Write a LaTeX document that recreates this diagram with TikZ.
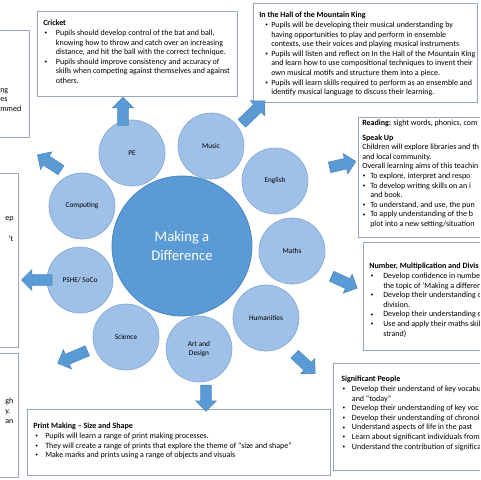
\documentclass[tikz,border=0pt]{standalone}
\usepackage{fontspec}
\setmainfont{Carlito}
\usepackage{tikz}
\usetikzlibrary{shapes.arrows,positioning,fit}
\definecolor{hub}{HTML}{5B9BD5}
\definecolor{hubline}{HTML}{4A85C0}
\definecolor{topic}{HTML}{9FC0E7}
\definecolor{topicline}{HTML}{86A9D6}
\definecolor{panel}{HTML}{97A6B6}
\definecolor{shove}{HTML}{5B9BD5}
\definecolor{shoveline}{HTML}{4F88C2}

\newlength{\bulw}
\newlength{\bullead}
\newcommand{\bul}{\hspace*{\bullead}\makebox[\bulw][l]{\raisebox{0.6pt}{\fontsize{4}{4}\selectfont\textbullet}}}
\newcommand{\ind}{\hspace*{\bullead}\hspace*{\bulw}}

\begin{document}
\begin{tikzpicture}[x=0.75pt, y=-0.75pt,
  panelbox/.style={draw=panel, fill=white, line width=0.6pt, inner sep=0pt},
  txt/.style={anchor=north west, inner sep=0pt, align=left, font=\fontsize{6}{7.2}\selectfont},
  hang/.code={\setlength{\bulw}{#1}},
  lead/.code={\setlength{\bullead}{#1}},
  topicball/.style={circle, fill=topic, draw=topicline, line width=0.5pt, minimum size=49.5pt, inner sep=0pt, align=center, font=\fontsize{5.5}{6.5}\selectfont},
  hubball/.style={circle, fill=hub, draw=hubline, line width=0.6pt, minimum size=105pt, inner sep=0pt, align=center, text=white, font=\fontsize{11}{14.5}\selectfont},
  blk/.style={single arrow, fill=shove, draw=shoveline, line width=0.5pt, inner xsep=0pt, inner ysep=3.75pt, single arrow head extend=3.75pt, single arrow tip angle=90, minimum height=21pt}
]
  \useasboundingbox (0,0) rectangle (480,480);
  \clip (0,0) rectangle (480,480);

  % panels cut by the left edge
  \node[panelbox, fit={(-120,30) (29,137)}] (leftboxa) {};
  \node[panelbox, fit={(-120,173) (18,347)}] (leftboxb) {};
  \node[panelbox, fit={(-120,353) (18,477)}] (leftboxc) {};
  \node[txt] (lefttxta) at (0,88) {ng\\es\\mmed};
  \node[txt] (lefttxtb) at (5,216) {ep};
  \node[txt] (lefttxtc) at (8,236) {’t};
  \node[txt] (lefttxtd) at (5,398) {gh\\y.\\an};

  % panels
  \node[panelbox, fit={(37,11) (237,96)}] (cricketbox) {};
  \node[txt, hang=8.5pt, lead=1pt] (crickettxt) at (43,20) {\textbf{Cricket}\\
    \bul Pupils should develop control of the bat and ball,\\
    \ind knowing how to throw and catch over an increasing\\
    \ind distance, and hit the ball with the correct technique.\\
    \bul Pupils should improve consistency and accuracy of\\
    \ind skills when competing against themselves and against\\
    \ind others.};

  \node[panelbox, fit={(253,3) (477,102)}] (hallbox) {};
  \node[txt, hang=4.5pt, lead=4.5pt] (halltxt) at (259,12) {\textbf{In the Hall of the Mountain King}\\
    \bul Pupils will be developing their musical understanding by\\
    \ind having opportunities to play and perform in ensemble\\
    \ind contexts, use their voices and playing musical instruments\\
    \bul Pupils will listen and reflect on In the Hall of the Mountain King\\
    \ind and learn how to use compositional techniques to invent their\\
    \ind own musical motifs and structure them into a piece.\\
    \bul Pupils will learn skills required to perform as an ensemble and\\
    \ind identify musical language to discuss their learning.};

  \node[panelbox, fit={(358,117) (520,237)}] (readbox) {};
  \node[txt, hang=5.5pt, lead=0.5pt] (readtxt) at (362,120) {\textbf{Reading:} sight words, phonics, com\\[3.5pt]
    \textbf{Speak Up}\\
    Children will explore libraries and th\\
    and local community.\\
    Overall learning aims of this teachin\\
    \bul To explore, interpret and respo\\
    \bul To develop writing skills on an i\\
    \ind and book.\\
    \bul To understand, and use, the pun\\
    \bul To apply understanding of the b\\
    \ind plot into a new setting/situation};

  \node[panelbox, fit={(363,242) (520,350)}] (numbox) {};
  \node[txt, hang=9.5pt, lead=1pt] (numtxt) at (369,263) {\textbf{Number, Multiplication and Divis}\\
    \bul Develop confidence in number\\
    \ind the topic of ‘Making a differen\\
    \bul Develop their understanding o\\
    \ind division.\\
    \bul Develop their understanding o\\
    \bul Use and apply their maths skil\\
    \ind strand)};

  \node[panelbox, fit={(333,363) (520,470)}] (peoplebox) {};
  \node[txt, hang=7pt, lead=1pt] (peopletxt) at (341,376) {\textbf{Significant People}\\
    \bul Develop their understand of key vocabu\\
    \ind and “today”\\
    \bul Develop their understanding of key voc\\
    \bul Develop their understanding of chronol\\
    \bul Understand aspects of life in the past\\
    \bul Learn about significant individuals from\\
    \bul Understand the contribution of significa};

  \node[panelbox, fit={(27,409) (330,475)}] (printbox) {};
  \node[txt, hang=7.5pt, lead=1.5pt] (printtxt) at (33,423) {\textbf{Print Making – Size and Shape}\\
    \bul Pupils will learn a range of print making processes.\\
    \bul They will create a range of prints that explore the theme of “size and shape”\\
    \bul Make marks and prints using a range of objects and visuals};

  % subjects round the hub
  \node[hubball] (hub) at (182,246) {Making a\\Difference};
  \node[topicball] (pe) at (132,153) {PE};
  \node[topicball] (music) at (211,146) {Music};
  \node[topicball] (english) at (275,181) {English};
  \node[topicball] (maths) at (292,251) {Maths};
  \node[topicball] (humanities) at (266,318) {Humanities};
  \node[topicball] (art) at (199,349) {Art and\\Design};
  \node[topicball] (science) at (126,337) {Science};
  \node[topicball] (pshe) at (80,280) {PSHE/ SoCo};
  \node[topicball] (computing) at (82,206) {Computing};

  % block arrows out to the panels
  \node[blk, rotate=90] (pearrow) at (123,114) {};
  \node[blk, rotate=44, minimum height=24pt] (musicarrow) at (251.5,114) {};
  \node[blk, rotate=13, minimum height=20pt] (englisharrow) at (340,165) {};
  \node[blk, rotate=-25] (mathsarrow) at (342,281) {};
  \node[blk, rotate=-43] (humarrow) at (303,362) {};
  \node[blk, rotate=-90, minimum height=19.5pt] (artarrow) at (206,395.5) {};
  \node[blk, rotate=203, minimum height=24pt] (sciencearrow) at (75,356) {};
  \node[blk, rotate=180, minimum height=23pt] (pshearrow) at (39.5,280) {};
  \node[blk, rotate=147] (computingarrow) at (51.5,164) {};
\end{tikzpicture}
\end{document}
